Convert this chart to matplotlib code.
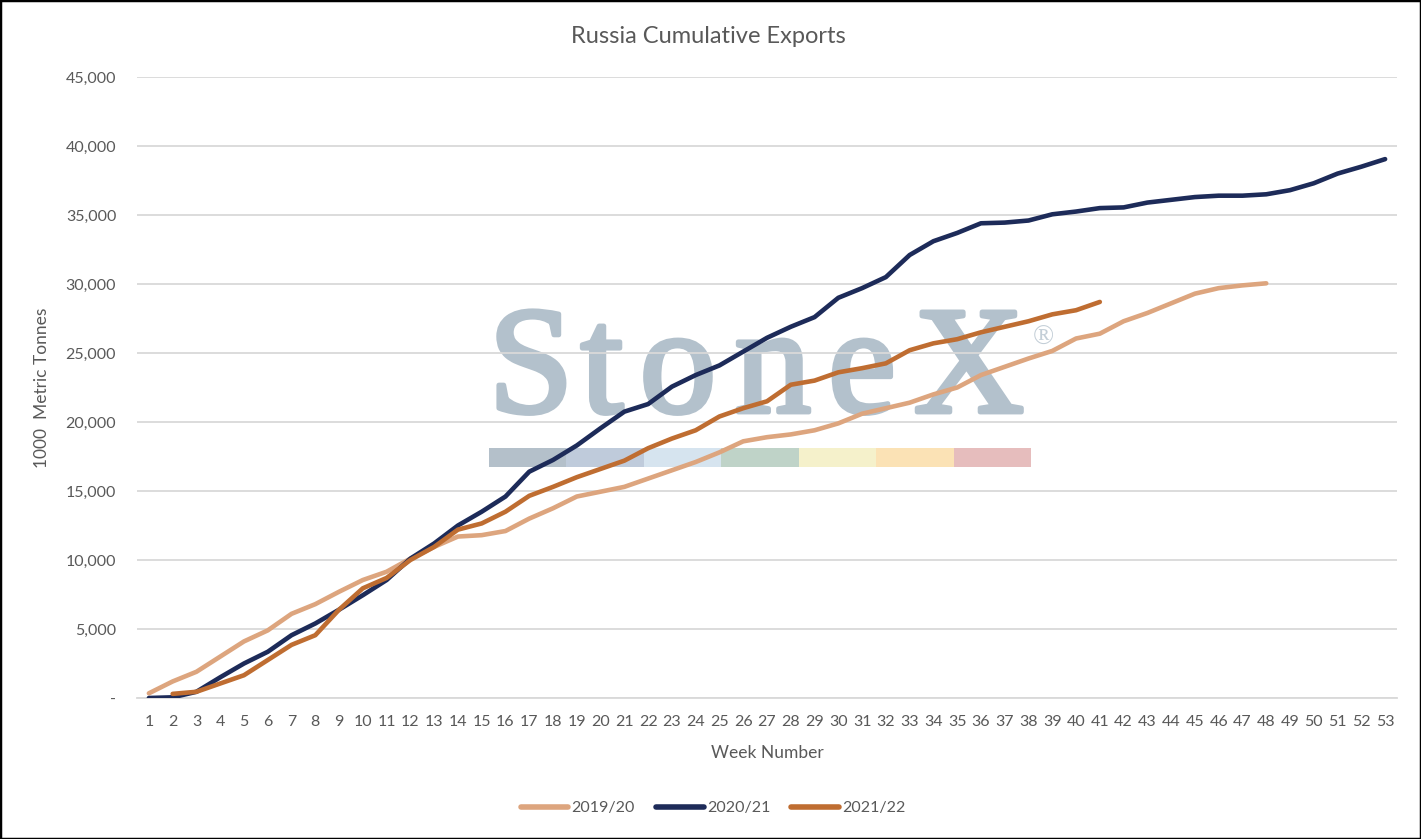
import numpy as np
import matplotlib.pyplot as plt
import matplotlib.patheffects as pe
from matplotlib.patches import Rectangle

weeks_1920 = list(range(1, 49))
exports_1920 = [340, 1200, 1900, 3000, 4100, 4900, 6100, 6800, 7700, 8550,
                9150, 10100, 10950, 11700, 11800, 12100, 13000, 13750, 14600, 14950,
                15300, 15900, 16500, 17100, 17800, 18600, 18900, 19100, 19400, 19900,
                20600, 21000, 21400, 22000, 22500, 23400, 24000, 24600, 25150, 26050,
                26400, 27300, 27900, 28600, 29300, 29700, 29900, 30050]

weeks_2021 = list(range(1, 54))
exports_2021 = [0, 50, 450, 1500, 2500, 3350, 4550, 5400, 6400, 7450,
                8550, 10100, 11200, 12500, 13500, 14600, 16400, 17250, 18300, 19550,
                20750, 21300, 22560, 23400, 24100, 25100, 26100, 26900, 27600, 29000,
                29700, 30500, 32100, 33100, 33700, 34400, 34450, 34600, 35050, 35250,
                35500, 35550, 35900, 36100, 36300, 36400, 36400, 36500, 36800, 37300,
                38000, 38500, 39050]

weeks_2122 = list(range(2, 42))
exports_2122 = [300, 450, 1050, 1650, 2750, 3850, 4550, 6400, 7950,
                8700, 10000, 10950, 12200, 12650, 13500, 14650, 15300, 16000, 16600,
                17200, 18100, 18800, 19400, 20400, 21000, 21500, 22700, 23000, 23600,
                23900, 24250, 25200, 25700, 26000, 26500, 26900, 27300, 27800, 28100,
                28700]

series_labels = ["2019/20", "2020/21", "2021/22"]
series_colors = ["#dda57e", "#1d2b59", "#bf6d31"]

logo_letters = ["S", "t", "o", "n", "e", "X"]
logo_centres = [531, 602, 678, 773, 862, 969]
band_colors = ["#b4c0ca", "#bfcbdb", "#d6e4ef", "#bfd3c8", "#f5f1cb", "#fbe2b5", "#e6bdbd"]

W, H = 1421, 839
text_grey = "#595959"
logo_grey = "#b3c1cc"
font = ["Lato", "DejaVu Sans"]

plt.rcParams['font.family'] = font
fig = plt.figure(figsize=(W / 100, H / 100), dpi=100)
ax = fig.add_axes([137 / W, 1 - 698 / H, (1397 - 137) / W, (698 - 77) / H])
ax.set_zorder(2)
ax.patch.set_alpha(0)

# watermark logo, kept behind the axes
for letter, cx in zip(logo_letters, logo_centres):
    fig.text(cx / W, 1 - 412 / H, letter, family="Liberation Serif", fontsize=110,
             color=logo_grey, ha="center", va="baseline", zorder=0,
             path_effects=[pe.withStroke(linewidth=3.5, foreground=logo_grey)])
fig.text(1033 / W, 1 - 345 / H, "\u00ae", family="Liberation Serif", fontsize=20,
         color="#c3ced7", ha="left", va="baseline", zorder=0)
band_w = (1031 - 489) / len(band_colors)
for i, c in enumerate(band_colors):
    fig.patches.append(Rectangle(((489 + i * band_w) / W, 1 - 467 / H), band_w / W, 19 / H,
                                 transform=fig.transFigure, facecolor=c,
                                 edgecolor="none", zorder=0))

ax.plot(weeks_1920, exports_1920, color=series_colors[0], lw=3.3,
        solid_capstyle="round", solid_joinstyle="round", label=series_labels[0], zorder=3)
ax.plot(weeks_2021, exports_2021, color=series_colors[1], lw=3.3,
        solid_capstyle="round", solid_joinstyle="round", label=series_labels[1], zorder=3)
ax.plot(weeks_2122, exports_2122, color=series_colors[2], lw=3.3,
        solid_capstyle="round", solid_joinstyle="round", label=series_labels[2], zorder=3)

ax.set_xlim(0.5, 53.5)
ax.set_ylim(0, 45000)
ax.set_xticks(weeks_2021)
ax.set_xticklabels([str(w) for w in weeks_2021])
yt = np.arange(0, 45001, 5000)
ax.set_yticks(yt)
ax.set_yticklabels(["-"] + [f"{v:,}" for v in yt[1:]])
ax.tick_params(length=0, labelsize=11.5, labelcolor=text_grey)
ax.tick_params(axis="y", pad=15)
ax.tick_params(axis="x", pad=12)
ax.grid(axis="y", color="#d9d9d9", lw=1.3, zorder=1)
for s in ["top", "right", "left"]:
    ax.spines[s].set_visible(False)
ax.spines["bottom"].set_color("#d9d9d9")
ax.spines["bottom"].set_linewidth(1.3)

fig.text(708 / W, 1 - 43 / H, "Russia Cumulative Exports", fontsize=17,
         color=text_grey, ha="center", va="baseline")
fig.text(42 / W, 1 - 388 / H, "1000  Metric Tonnes", fontsize=12.5, color=text_grey,
         rotation=90, ha="center", va="center")
fig.text(767 / W, 1 - 753 / H, "Week Number", fontsize=12.5, color=text_grey,
         ha="center", va="center")

leg = fig.legend(loc="center", bbox_to_anchor=(713 / W, 1 - 808 / H), ncol=3,
                 frameon=False, fontsize=11.5, handlelength=3.0, handletextpad=0.2,
                 columnspacing=1.3, labelcolor=text_grey)
for line in leg.get_lines():
    line.set_linewidth(4.0)
    line.set_solid_capstyle("round")

fig.patches.append(Rectangle((0, 0), 1, 1, transform=fig.transFigure, fill=False,
                             edgecolor="black", lw=2.5, zorder=10))

fig.savefig("out.png", dpi=100)
